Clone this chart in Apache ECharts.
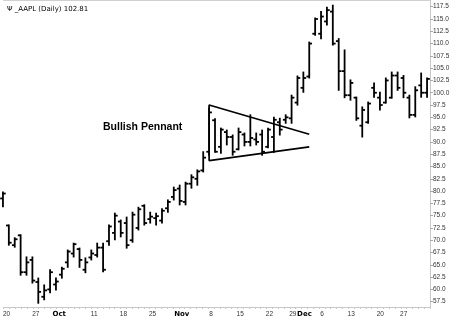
<!DOCTYPE html>
<html><head><meta charset="utf-8">
<script src="https://cdn.jsdelivr.net/npm/echarts@6/dist/echarts.min.js"></script>
<style>html,body{margin:0;padding:0;background:#fff}#c{width:460px;height:327px}</style>
</head><body><div id="c"></div>
<script>
var dates = ['09-20','09-21','09-22','09-23','09-24','09-27','09-28','09-29','09-30',
'10-01','10-04','10-05','10-06','10-07','10-08','10-11','10-12','10-13','10-14','10-15','10-18','10-19','10-20','10-21','10-22','10-25','10-26','10-27','10-28','10-29',
'11-01','11-02','11-03','11-04','11-05','11-08','11-09','11-10','11-11','11-12','11-15','11-16','11-17','11-18','11-19','11-22','11-23','11-24','11-26','11-29','11-30',
'12-01','12-02','12-03','12-06','12-07','12-08','12-09','12-10','12-13','12-14','12-15','12-16','12-17','12-20','12-21','12-22','12-23','12-27','12-28','12-29','12-30','12-31'];
var openV  = [78.5,73.0,69.0,71.0,63.5,66.0,61.5,58.5,60.0, 61.0,63.0,65.5,67.3,68.2,64.0,66.5,67.0,68.5,69.8,71.5,73.8,73.5,70.0,72.5,77.0,74.3,74.5,74.0,76.5,78.8,
 80.5,77.8,81.5,82.5,84.2,88.0,94.4,89.0,92.0,91.0,88.5,91.5,90.0,90.5,91.5,89.0,91.0,94.0,94.5,94.8,98.0,
 101.0,103.3,112.0,112.0,114.5,116.5,110.5,104.4,99.5,99.0,93.3,94.0,101.0,99.0,98.0,99.0,103.5,103.0,99.0,95.5,101.5,100.0];
var highV  = [79.8,73.1,70.5,71.1,66.6,66.6,62.3,60.9,64.0, 62.3,64.5,68.0,69.4,68.4,66.4,68.0,69.4,69.4,73.1,75.5,74.1,74.7,75.7,76.7,77.2,75.7,75.5,76.4,78.2,80.8,
 81.2,81.8,83.3,84.3,88.0,96.9,94.7,92.8,92.4,91.4,92.8,91.8,95.5,91.8,92.4,92.8,95.0,94.8,95.5,99.5,103.4,
 104.2,110.3,115.2,116.5,117.4,117.8,111.0,108.7,102.6,99.1,97.1,98.1,102.0,100.1,103.0,104.2,104.2,103.5,99.5,101.2,104.0,103.0];
var lowV   = [76.8,69.0,68.6,62.9,62.9,61.3,57.2,57.9,59.3, 59.9,62.3,64.5,66.6,64.5,63.4,66.0,66.6,63.6,69.0,70.1,70.7,68.4,69.6,72.1,73.1,73.5,73.1,73.5,75.7,78.2,
 77.2,77.2,80.6,81.2,83.9,87.3,87.9,87.7,89.4,87.3,88.4,89.2,89.2,89.4,87.3,88.8,87.9,91.4,93.8,93.8,97.5,
 100.1,103.0,111.7,111.0,113.8,109.7,100.5,99.0,98.5,94.4,91.0,93.8,99.1,96.5,97.9,98.9,100.5,99.0,94.9,95.1,99.1,99.1];
var closeV = [79.5,69.5,70.2,63.5,65.5,61.8,59.5,59.8,63.5, 61.6,64.2,67.7,69.2,66.0,65.5,67.3,68.5,64.0,72.8,75.0,71.5,69.0,75.2,76.3,73.5,74.8,74.9,76.0,77.8,80.2,
 78.0,81.5,82.8,84.0,86.8,96.0,88.0,92.5,91.0,88.0,92.0,90.0,90.8,90.0,88.0,92.5,94.5,92.5,95.0,99.0,103.0,
 103.0,110.0,115.0,115.5,116.8,110.0,104.4,99.5,102.0,94.8,96.5,97.8,100.0,97.5,102.5,103.5,101.0,100.0,95.5,100.5,100.0,102.81];
var tickLabels = {'09-20':'20','09-27':'27','10-01':'Oct','10-11':'11','10-18':'18','10-25':'25','11-01':'Nov','11-08':'8','11-15':'15','11-22':'22','11-29':'29','12-01':'Dec','12-06':'6','12-13':'13','12-20':'20','12-27':'27'};
var monthNames = ['Oct','Nov','Dec'];
var yMin = 57.5, yMax = 117.5, yStep = 2.5;
var pennantX = ['12-02','11-08','11-08','12-02'];
var pennantY = [91.55, 97.5, 86.2, 89.0];
var titleText = '\u03A8 _AAPL (Daily) 102.81';
var annotation = 'Bullish Pennant';

var ohlc = dates.map(function(d,i){return [i, openV[i], highV[i], lowV[i], closeV[i]];});
var pennant = pennantX.map(function(d,i){return [d, pennantY[i]];});
var FONT = 'Liberation Sans, Arial, sans-serif';

var chart = echarts.init(document.getElementById('c'), null, {renderer:'canvas'});
chart.setOption({
  animation:false,
  backgroundColor:'#fff',
  title:{text:titleText, left:2, top:1, textStyle:{fontSize:7, fontWeight:'normal', color:'#000', fontFamily:'DejaVu Sans, sans-serif'}},
  grid:[{left:0, right:30, top:6.7, bottom:25.3},{left:0, right:30, top:0.5, bottom:20}],
  xAxis:[
    {type:'category', gridIndex:0, data:dates, show:false, boundaryGap:true},
    {type:'category', gridIndex:1, data:dates, boundaryGap:true, position:'bottom',
      axisLine:{lineStyle:{color:'#c8c8c8', width:1}},
      axisTick:{show:true, interval:0, length:2, lineStyle:{color:'#c8c8c8'}},
      axisLabel:{interval:function(i,v){return tickLabels[v]!==undefined;}, margin:4, fontSize:6.5, color:'#333', fontFamily:FONT,
        formatter:function(v){var t=tickLabels[v]; return monthNames.indexOf(t)>=0 ? '{b|'+t+'}' : t;},
        rich:{b:{fontWeight:'bold', fontSize:7, color:'#000', fontFamily:'DejaVu Sans, sans-serif'}}},
      splitLine:{show:false}},
    {type:'category', gridIndex:1, data:dates, position:'top', axisLine:{lineStyle:{color:'#d0d0d0'}}, axisTick:{show:false}, axisLabel:{show:false}}
  ],
  yAxis:[
    {type:'value', gridIndex:0, position:'right', min:yMin, max:yMax, interval:yStep, scale:true,
      axisLine:{show:false}, axisTick:{show:true, length:3, lineStyle:{color:'#aaa'}},
      axisLabel:{margin:3, fontSize:6.5, color:'#333', fontFamily:FONT, formatter:function(v){return v.toFixed(1);}},
      splitLine:{show:false}},
    {type:'value', gridIndex:1, position:'right', min:0, max:1, axisLine:{show:true, lineStyle:{color:'#c8c8c8'}}, axisTick:{show:false}, axisLabel:{show:false}, splitLine:{show:false}}
  ],
  graphic:[{type:'text', left:103, top:122, style:{text:annotation, font:'bold 10.5px Liberation Sans, Arial, sans-serif', fill:'#000'}}],
  series:[
    {type:'custom', xAxisIndex:0, yAxisIndex:0, data:ohlc, encode:{x:0, y:[1,2,3,4]}, clip:false,
      renderItem:function(params, api){
        var i = api.value(0);
        var o = api.coord([i, api.value(1)]);
        var h = api.coord([i, api.value(2)]);
        var l = api.coord([i, api.value(3)]);
        var c = api.coord([i, api.value(4)]);
        var w = 2.8, st = {stroke:'#000', lineWidth:1.8};
        return {type:'group', children:[
          {type:'line', shape:{x1:h[0], y1:h[1]-0.5, x2:l[0], y2:l[1]+0.5}, style:st},
          {type:'line', shape:{x1:o[0]-w, y1:o[1], x2:o[0], y2:o[1]}, style:st},
          {type:'line', shape:{x1:c[0], y1:c[1], x2:c[0]+w, y2:c[1]}, style:st}
        ]};
      }},
    {type:'line', xAxisIndex:0, yAxisIndex:0, data:pennant, symbol:'none', lineStyle:{color:'#000', width:1.7}, silent:true}
  ]
});
</script></body></html>
